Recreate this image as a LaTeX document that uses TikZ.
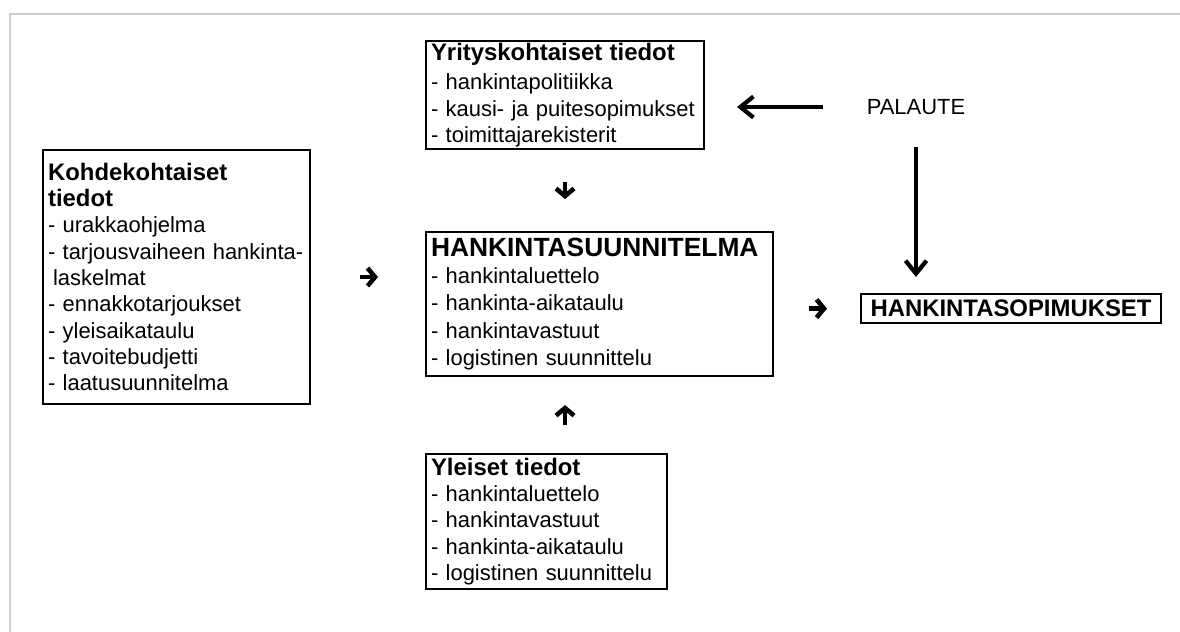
\documentclass[tikz,border=0pt]{standalone}
\usepackage{fontspec}
\setmainfont{Liberation Sans}
\usetikzlibrary{arrows.meta,positioning,calc}
\usepackage{xcolor}

\newcommand{\otsikko}[1]{{\fontsize{13.6}{15}\selectfont\bfseries #1}}

\begin{document}
\begin{tikzpicture}[x=0.02cm,y=-0.02cm,
		infobox/.style={draw,line width=1.2pt,anchor=north west,align=left,inner xsep=0.1cm,inner ysep=0pt,font=\fontsize{12.5}{15}\selectfont},
		isonuoli/.style={line width=2.4pt,-{Straight Barb[length=0.26cm,width=0.42cm]}},
		pieninuoli/.style={line width=2.6pt,-{Straight Barb[length=0.15cm,width=0.36cm]}}]
				\useasboundingbox (0,0) rectangle (1180,632);
				% Kehys
				\draw[gray!40,line width=1.2pt] (1180,14) -- (10,14) -- (10,632);
				
				% Laatikot
				\node[infobox,text width=5.36cm,minimum height=2.16cm] (yritys) at (425,40)
				{\otsikko{Yrityskohtaiset tiedot}\\[0.06cm]- hankintapolitiikka\\- kausi- ja puitesopimukset\\- toimittajarekisterit};
				
				\node[infobox,text width=5.14cm,minimum height=5.08cm] (kohde) at (42,149)
				{\otsikko{Kohdekohtaiset}\\\otsikko{tiedot}\\- urakkaohjelma\\- tarjousvaiheen hankinta-\\\hspace*{0.1cm}laskelmat\\- ennakkotarjoukset\\- yleisaikataulu\\- tavoitebudjetti\\- laatusuunnitelma};
				
				\node[infobox,text width=6.74cm,minimum height=2.88cm,font=\fontsize{12.5}{15.6}\selectfont] (suunn) at (425,231)
				{{\fontsize{15}{15.6}\selectfont\bfseries HANKINTASUUNNITELMA}\\- hankintaluettelo\\- hankinta-aikataulu\\- hankintavastuut\\- logistinen suunnittelu};
				
				\node[infobox,text width=4.62cm,minimum height=2.7cm] (yleiset) at (425,453)
				{\otsikko{Yleiset tiedot}\\- hankintaluettelo\\- hankintavastuut\\- hankinta-aikataulu\\- logistinen suunnittelu};
				
				\node[draw,line width=1.2pt,anchor=north west,minimum width=6cm,minimum height=0.58cm,inner sep=0pt,font=\fontsize{13.6}{15}\selectfont\bfseries] (sopimukset) at (860,293) {HANKINTASOPIMUKSET};
				
				\node[font=\fontsize{12.5}{15}\selectfont] (palaute) at (916,107) {PALAUTE};
				
				% Palaute
				\draw[isonuoli,shorten <=0.76cm,shorten >=0.64cm] (palaute.west) -- (palaute.west -| yritys.east);
				\draw[isonuoli,shorten <=0.52cm,shorten >=0.32cm] (palaute.south) -- (palaute.south |- sopimukset.north);
				
				% Pienet nuolet
				\draw[pieninuoli,shorten <=0.98cm,shorten >=0.94cm] (kohde.east) -- (kohde.east -| suunn.west);
				\draw[pieninuoli,shorten <=0.64cm,shorten >=0.64cm] (yritys.south) -- (yritys.south |- suunn.north);
				\draw[pieninuoli,shorten <=0.56cm,shorten >=0.56cm] (yritys.south |- yleiset.north) -- (yritys.south |- suunn.south);
				\draw[pieninuoli,shorten <=0.7cm,shorten >=0.66cm] (suunn.east |- sopimukset.west) -- (sopimukset.west);
				
\end{tikzpicture}
\end{document}
